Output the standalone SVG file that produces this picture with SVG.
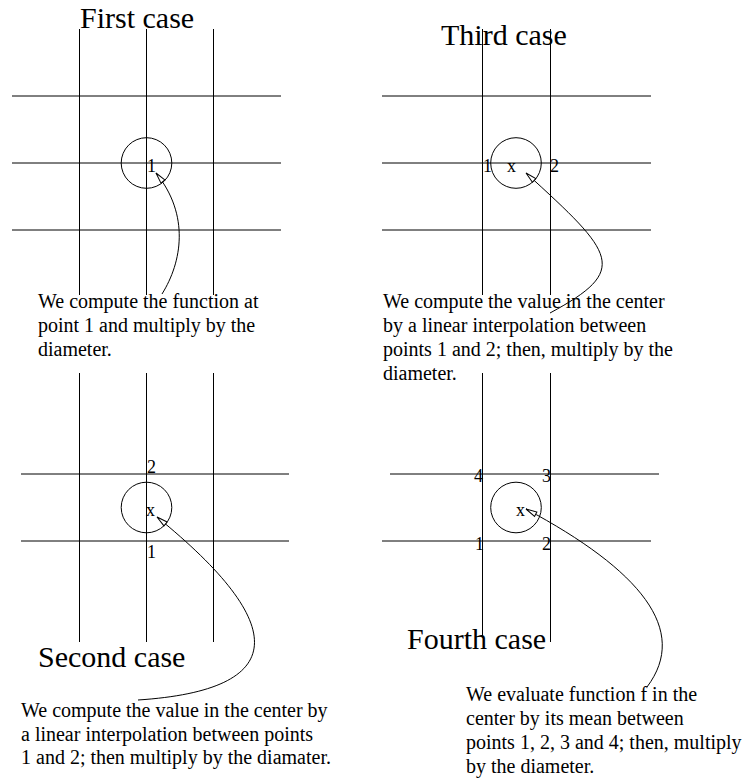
<svg xmlns="http://www.w3.org/2000/svg" width="747" height="782" viewBox="0 0 747 782">
<style>
.g{stroke:#000;stroke-width:1;fill:none}
.c{stroke:#000;stroke-width:1;fill:none}
.t{font-family:"Liberation Serif","Times New Roman",serif;font-size:20px;fill:#000}
.h{font-family:"Liberation Serif","Times New Roman",serif;font-size:30px;fill:#000}
.l{font-family:"Liberation Serif","Times New Roman",serif;font-size:18px;fill:#000}
.a{stroke:#000;stroke-width:1;fill:none;marker-end:url(#ah)}
</style>
<defs>
<marker id="ah" markerUnits="userSpaceOnUse" markerWidth="16" markerHeight="10" refX="12" refY="3.5" orient="auto" overflow="visible">
<path d="M1,1 L12,3.5 L1,6 z" fill="#fff" stroke="#000" stroke-width="1"/>
</marker>
</defs>
<rect width="747" height="782" fill="#fff"/>
<g id="first-case">
<line class="g" x1="79.5" y1="29" x2="79.5" y2="295"/>
<line class="g" x1="146.5" y1="29" x2="146.5" y2="295"/>
<line class="g" x1="213.5" y1="29" x2="213.5" y2="295"/>
<line class="g" x1="12" y1="96" x2="281" y2="96"/>
<line class="g" x1="12" y1="163" x2="281" y2="163"/>
<line class="g" x1="12" y1="230" x2="281" y2="230"/>
<circle class="c" cx="146.5" cy="163" r="25.3"/>
<text class="l" x="147" y="172">1</text>
<text class="h" x="80" y="28">First case</text>
<text class="t" x="38" y="308">We compute the function at</text>
<text class="t" x="38" y="332">point 1 and multiply by the</text>
<text class="t" x="38" y="356">diameter.</text>
</g>
<g id="third-case">
<line class="g" x1="482.5" y1="29" x2="482.5" y2="295"/>
<line class="g" x1="550.5" y1="29" x2="550.5" y2="295"/>
<line class="g" x1="382" y1="96" x2="651" y2="96"/>
<line class="g" x1="382" y1="163" x2="651" y2="163"/>
<line class="g" x1="382" y1="230" x2="651" y2="230"/>
<circle class="c" cx="516" cy="163" r="25.3"/>
<text class="l" x="483" y="172">1</text>
<text class="l" x="507" y="172">x</text>
<text class="l" x="550" y="172">2</text>
<text class="h" x="441" y="45">Third case</text>
<text class="t" x="383" y="308">We compute the value in the center</text>
<text class="t" x="383" y="332">by a linear interpolation between</text>
<text class="t" x="383" y="356">points 1 and 2; then, multiply by the</text>
<text class="t" x="383" y="380">diameter.</text>
</g>
<g id="second-case">
<line class="g" x1="79.5" y1="373" x2="79.5" y2="642"/>
<line class="g" x1="146.5" y1="373" x2="146.5" y2="642"/>
<line class="g" x1="213.5" y1="373" x2="213.5" y2="642"/>
<line class="g" x1="21" y1="474" x2="289" y2="474"/>
<line class="g" x1="21" y1="541" x2="289" y2="541"/>
<circle class="c" cx="146.5" cy="507.5" r="25.3"/>
<text class="l" x="147" y="473">2</text>
<text class="l" x="146" y="516">x</text>
<text class="l" x="147" y="558">1</text>
<text class="h" x="38" y="667">Second case</text>
<text class="t" x="21" y="717">We compute the value in the center by</text>
<text class="t" x="21" y="740.5">a linear interpolation between points</text>
<text class="t" x="21" y="764">1 and 2; then multiply by the diamater.</text>
</g>
<g id="fourth-case">
<line class="g" x1="482.5" y1="373" x2="482.5" y2="636"/>
<line class="g" x1="550.5" y1="373" x2="550.5" y2="642"/>
<line class="g" x1="390" y1="474" x2="659" y2="474"/>
<line class="g" x1="382" y1="541" x2="651" y2="541"/>
<circle class="c" cx="516" cy="507.5" r="25.3"/>
<text class="l" x="474" y="482">4</text>
<text class="l" x="542" y="482">3</text>
<text class="l" x="475" y="550">1</text>
<text class="l" x="542" y="550">2</text>
<text class="l" x="516" y="516">x</text>
<text class="h" x="407" y="649">Fourth case</text>
<text class="t" x="466" y="701">We evaluate function f in the</text>
<text class="t" x="466" y="725">center by its mean between</text>
<text class="t" x="466" y="749">points 1, 2, 3 and 4; then, multiply</text>
<text class="t" x="466" y="773">by the diameter.</text>
</g>
<g id="connectors">
<path class="a" d="M162,294 C182,262 190,215 156,173"/>
<path class="a" d="M550,313 C630,270 615,254 526,173"/>
<path class="a" d="M138,700 C290,690 290,625 157,517"/>
<path class="a" d="M647,687 C690,630 640,570 526,509"/>
</g>
</svg>
